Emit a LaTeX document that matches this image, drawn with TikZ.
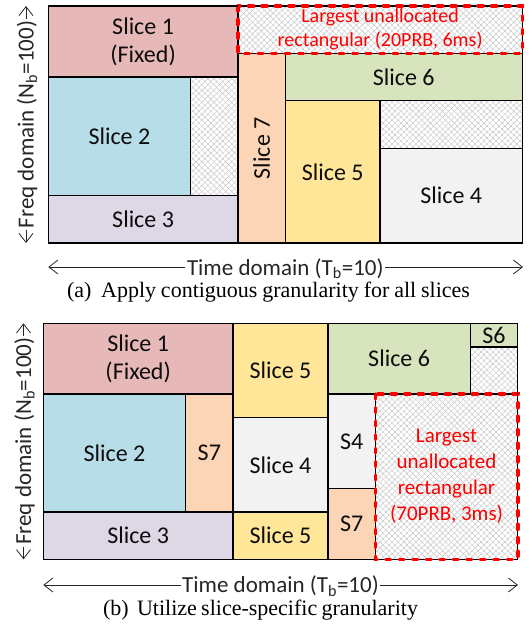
\documentclass[tikz,border=0pt]{standalone}
\usepackage{fontspec}
\setmainfont{Carlito}
\newfontfamily\capfont{Liberation Serif}
\usetikzlibrary{arrows.meta,patterns.meta}

% slice fill colours
\definecolor{cSone}{HTML}{E6B9B8}
\definecolor{cStwo}{HTML}{B7DEE8}
\definecolor{cSthree}{HTML}{DDD7E6}
\definecolor{cSfour}{HTML}{F2F2F2}
\definecolor{cSfive}{HTML}{FFE699}
\definecolor{cSsix}{HTML}{D7E4BD}
\definecolor{cSseven}{HTML}{FBD5B5}
\definecolor{hatchgray}{HTML}{C6C6C6}
\definecolor{inkred}{HTML}{FF0000}

\tikzset{
  slicebox/.style={draw=black, line width=1.3pt},
  hatch/.style={
    preaction={fill=white},
    preaction={pattern={Lines[angle=45,distance=4.2pt,line width=0.45pt]}, pattern color=hatchgray},
    preaction={pattern={Lines[angle=-45,distance=4.2pt,line width=0.45pt]}, pattern color=hatchgray}},
  reddash/.style={draw=inkred, line width=3.6pt, line cap=round, dash pattern=on 5pt off 8.5pt},
  lbl/.style={font=\fontsize{24}{28}\selectfont, align=center, text=black!95, inner sep=0pt},
  redlbl/.style={align=center, text=inkred, inner sep=0pt},
  axlbl/.style={font=\fontsize{23}{27}\selectfont, text=black!85, inner xsep=1.5pt, inner ysep=0pt, anchor=base},
  axarrow/.style={draw=black!85, line width=0.8pt, -{Straight Barb[length=9pt,width=14pt]}},
  caplbl/.style={font=\capfont\fontsize{22}{26}\selectfont, inner sep=0pt, anchor=base},
}

\begin{document}
\begin{tikzpicture}[x=1pt, y=-1pt]
\useasboundingbox (0,0) rectangle (531,631);

% ---------------- (a) contiguous granularity ----------------
\begin{scope}[shift={(48.3pt,-6pt)}, x=47.4pt, y=-2.37pt]
  \draw[slicebox, fill=cSone] (0,0) rectangle (4,30);
  \node[lbl] (a1) at (2,15) {Slice 1\\(Fixed)};
  \draw[slicebox, fill=cStwo] (0,30) rectangle (3,80);
  \node[lbl] (a2) at (1.5,55) {Slice 2};
  \draw[slicebox, hatch] (3,30) rectangle (4,80);
  \draw[slicebox, fill=cSthree] (0,80) rectangle (4,100);
  \node[lbl] (a3) at (2,90) {Slice 3};
  \draw[slicebox, fill=cSseven] (4,20) rectangle (5,100);
  \node[lbl, rotate=90] (a7) at (4.5,60) {Slice 7};
  \draw[slicebox, fill=cSsix] (5,20) rectangle (10,40);
  \node[lbl] (a6) at (7.5,30) {Slice 6};
  \draw[slicebox, fill=cSfive] (5,40) rectangle (7,100);
  \node[lbl] (a5) at (6,70) {Slice 5};
  \draw[slicebox, hatch] (7,40) rectangle (10,60);
  \draw[slicebox, fill=cSfour] (7,60) rectangle (10,100);
  \node[lbl] (a4) at (8.5,80) {Slice 4};
  \draw[slicebox, hatch] (4,0) rectangle (10,20);
  \draw[reddash] (4,0) rectangle (10,20);
  \node[redlbl, font=\fontsize{20}{24}\selectfont] (afree) at (7,10)
    {Largest unallocated\\rectangular (20PRB, 6ms)};
  \draw[slicebox] (0,0) -- (4,0) (0,0) -- (0,100) -- (10,100) -- (10,20);
\end{scope}

% axes of (a)
\node[axlbl] (ta) at (285.3,275) {Time domain (T\textsubscript{b}=10)};
\coordinate (taL) at (48.3,267);
\coordinate (taR) at (523,267);
\draw[axarrow] (ta.west |- taL) -- (taL);
\draw[axarrow] (ta.east |- taR) -- (taR);
\node[axlbl, rotate=90] (fa) at (33.5,124.5) {Freq domain (N\textsubscript{b}=100)};
\coordinate (faT) at (26,6);
\coordinate (faB) at (26,243);
\draw[axarrow] (fa.east -| faT) -- (faT);
\draw[axarrow] (fa.west -| faB) -- (faB);
\node[caplbl] (capa) at (268.5,297)
  {\makebox[403pt][s]{(a)\ \ Apply contiguous granularity for all slices}};

% ---------------- (b) slice-specific granularity ----------------
\begin{scope}[shift={(43.3pt,-323.3pt)}, x=47.44pt, y=-2.36pt]
  \draw[slicebox, fill=cSone] (0,0) rectangle (4,30);
  \node[lbl] (b1) at (2,15) {Slice 1\\(Fixed)};
  \draw[slicebox, fill=cStwo] (0,30) rectangle (3,80);
  \node[lbl] (b2) at (1.5,55) {Slice 2};
  \draw[slicebox, fill=cSseven] (3,30) rectangle (4,80);
  \node[lbl] (b7l) at (3.5,55) {S7};
  \draw[slicebox, fill=cSthree] (0,80) rectangle (4,100);
  \node[lbl] (b3) at (2,90) {Slice 3};
  \draw[slicebox, fill=cSfive] (4,0) rectangle (6,40);
  \node[lbl] (b5t) at (5,20) {Slice 5};
  \draw[slicebox, fill=cSfour] (4,40) rectangle (6,80);
  \node[lbl] (b4) at (5,60) {Slice 4};
  \draw[slicebox, fill=cSfive] (4,80) rectangle (6,100);
  \node[lbl] (b5b) at (5,90) {Slice 5};
  \draw[slicebox, fill=cSsix] (6,0) rectangle (9,30);
  \node[lbl] (b6) at (7.5,15) {Slice 6};
  \draw[slicebox, fill=cSsix] (9,0) rectangle (10,10);
  \node[lbl] (b6s) at (9.5,5) {S6};
  \draw[slicebox, hatch] (9,10) rectangle (10,30);
  \draw[slicebox, fill=cSfour] (6,30) rectangle (7,70);
  \node[lbl] (b4s) at (6.5,50) {S4};
  \draw[slicebox, fill=cSseven] (6,70) rectangle (7,100);
  \node[lbl] (b7r) at (6.5,85) {S7};
  \draw[slicebox, hatch] (7,30) rectangle (10,100);
  \draw[reddash] (7,30) rectangle (10,100);
  \node[redlbl, font=\fontsize{21}{26}\selectfont] (bfree) at (8.5,65)
    {Largest\\unallocated\\rectangular\\(70PRB, 3ms)};
  \draw[slicebox] (7,100) -- (0,100) -- (0,0) -- (10,0) -- (10,30);
\end{scope}

% axes of (b)
\node[axlbl] (tb) at (280.5,592.5) {Time domain (T\textsubscript{b}=10)};
\coordinate (tbL) at (43.3,585);
\coordinate (tbR) at (518,585);
\draw[axarrow] (tb.west |- tbL) -- (tbL);
\draw[axarrow] (tb.east |- tbR) -- (tbR);
\node[axlbl, rotate=90] (fb) at (31,441.3) {Freq domain (N\textsubscript{b}=100)};
\coordinate (fbT) at (23.5,323.3);
\coordinate (fbB) at (23.5,559.3);
\draw[axarrow] (fb.east -| fbT) -- (fbT);
\draw[axarrow] (fb.west -| fbB) -- (fbB);
\node[caplbl] (capb) at (260.5,615)
  {\makebox[315pt][s]{(b)\ \ Utilize slice-specific granularity}};
\end{tikzpicture}
\end{document}
